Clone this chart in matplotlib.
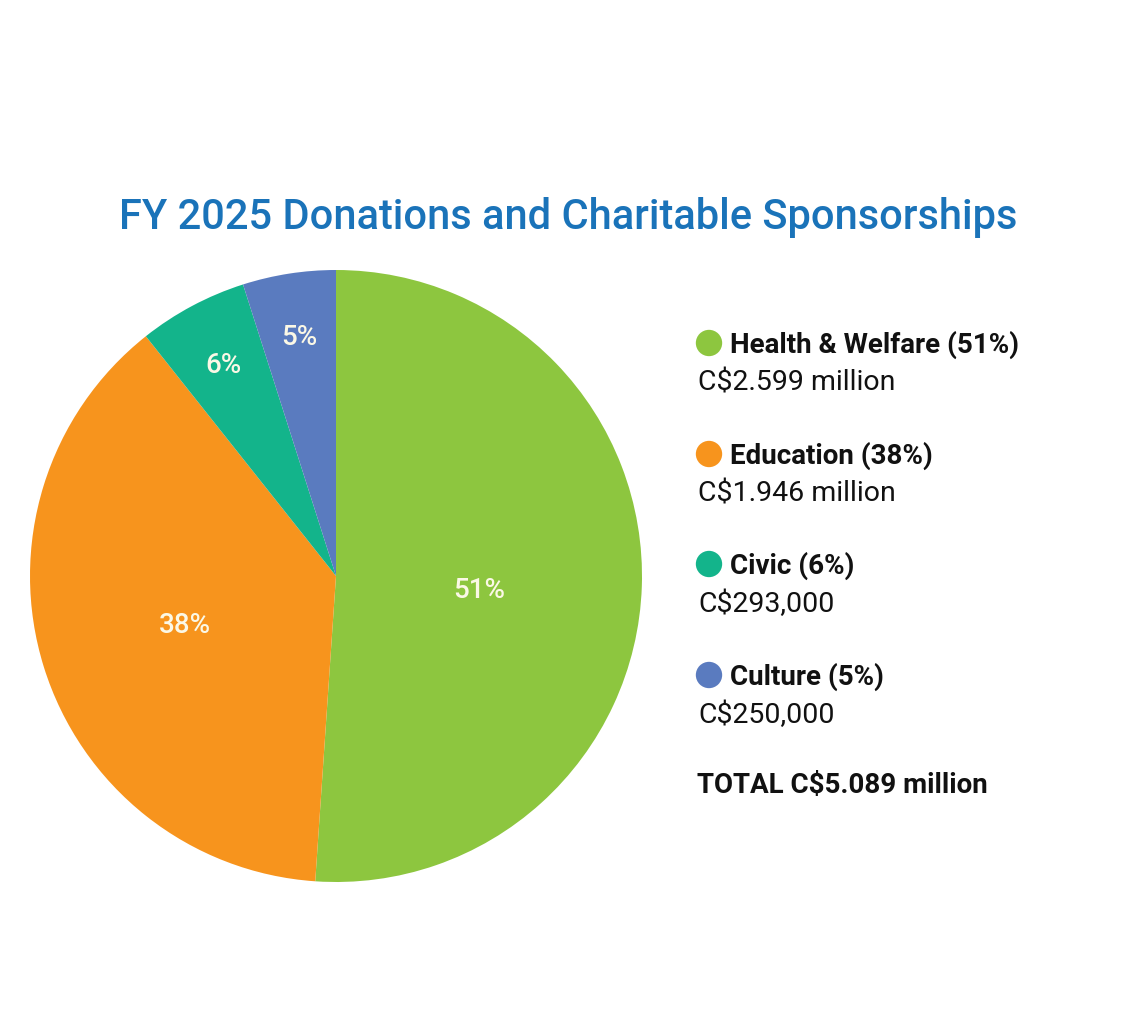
import matplotlib
matplotlib.use("Agg")
import matplotlib.pyplot as plt
import numpy as np

plt.rcParams['font.family'] = ['Roboto', 'DejaVu Sans']

categories = ["Health & Welfare", "Education", "Civic", "Culture"]
values = [2.599, 1.946, 0.293, 0.250]          # C$ millions
pct_labels = ["51%", "38%", "6%", "5%"]
amount_labels = ["C$2.599 million", "C$1.946 million", "C$293,000", "C$250,000"]
total_label = "TOTAL C$5.089 million"
colors = ["#8dc63f", "#f7941d", "#13b48b", "#5a7bbf"]
title = "FY 2025 Donations and Charitable Sponsorships"

W, H = 1138, 1016
fig = plt.figure(figsize=(W / 100, H / 100), dpi=100)
fig.patch.set_facecolor("white")

def fx(px):
    return px / W

def fy(py):
    return 1 - py / H

# Pie axes
cx, cy, r = 336, 576, 306
ax = fig.add_axes([fx(cx - r), fy(cy + r), 2 * r / W, 2 * r / H])
wedges, _ = ax.pie(values, colors=colors, startangle=90, counterclock=False,
                   radius=1, wedgeprops=dict(linewidth=0))
ax.set_xlim(-1, 1)
ax.set_ylim(-1, 1)
ax.set_aspect("auto")
ax.axis("off")

# (radius fraction, angle shift in degrees) for each percentage label
label_pos = [(0.47, -3.7), (0.52, 0.8), (0.78, 0.0), (0.79, 0.0)]
for w, lab, (lr, dang) in zip(wedges, pct_labels, label_pos):
    ang = np.deg2rad((w.theta1 + w.theta2) / 2 + dang)
    ax.text(lr * np.cos(ang), lr * np.sin(ang), lab, ha="center", va="center",
            color="#fbf8e6", fontsize=20, fontweight="medium")

# Title
fig.text(fx(568), fy(217), title, ha="center", va="center",
         color="#1a73b9", fontsize=30, fontweight="medium")

# Custom legend
lax = fig.add_axes([0, 0, 1, 1])
lax.set_xlim(0, W)
lax.set_ylim(H, 0)
lax.axis("off")
row_y = [344, 455, 565, 676]
for yy, cat, pct, amt, col in zip(row_y, categories, pct_labels, amount_labels, colors):
    lax.scatter([709], [yy - 1], s=360, color=col, edgecolors="none")
    lax.text(730, yy + 1, f"{cat} ({pct})", ha="left", va="center",
             fontsize=20, fontweight="bold", color="#111111")
    lax.text(698, yy + 39, amt, ha="left", va="center",
             fontsize=20.5, color="#111111")
lax.text(697, 786, total_label, ha="left", va="center",
         fontsize=20, fontweight="bold", color="#111111")

fig.savefig("out.png", dpi=100, facecolor="white")
